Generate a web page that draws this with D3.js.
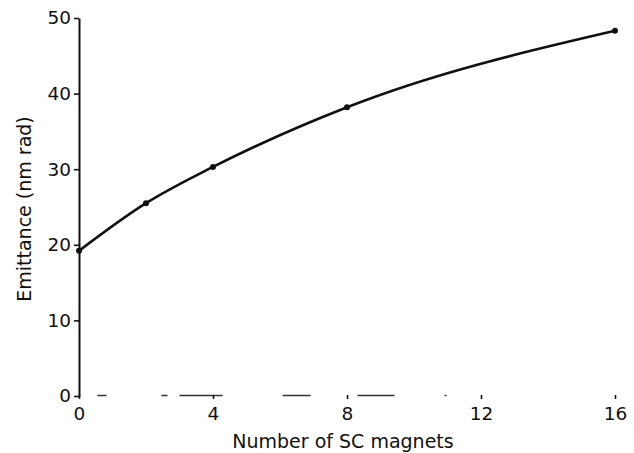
<!DOCTYPE html>
<html><head><meta charset="utf-8">
<script src="https://cdn.jsdelivr.net/npm/d3@7"></script>
<style>body{margin:0;background:#fff}svg{display:block}text{font-family:"DejaVu Sans",sans-serif;fill:#111}</style>
</head><body><svg id="c" width="634" height="453"></svg>
<script>
const xValues = [0, 2, 4, 8, 16];
const emittance = [19.2, 25.5, 30.3, 38.2, 48.3];
const xTicks = [0, 4, 8, 12, 16];
const yTicks = [0, 10, 20, 30, 40, 50];
const xTitle = "Number of SC magnets";
const yTitle = "Emittance (nm rad)";

const svg = d3.select("#c");
const x = d3.scaleLinear().domain([0, 16]).range([79, 615]);
const y = d3.scaleLinear().domain([0, 50]).range([396, 18]);

// y axis
const yAxis = svg.append("g").attr("transform", "translate(79,0)")
  .call(d3.axisLeft(y).tickValues(yTicks).tickSize(5).tickPadding(3).tickSizeOuter(0));
yAxis.select(".domain").attr("stroke", "#111").attr("stroke-width", 2);
yAxis.selectAll(".tick line").attr("stroke", "#111").attr("stroke-width", 1.6);
yAxis.selectAll(".tick text").attr("font-size", 18.5).attr("fill", "#111").attr("font-family", "DejaVu Sans");

// x axis (baseline faded in the print)
const xAxis = svg.append("g").attr("transform", "translate(0,395)")
  .call(d3.axisBottom(x).tickValues(xTicks).tickSize(4).tickPadding(8).tickSizeOuter(0));
xAxis.select(".domain").attr("stroke", "#333").attr("stroke-width", 1.3)
  .attr("stroke-dasharray", "0 18 9 55 6 12 43 60 28 47 37 50 2 200");
xAxis.selectAll(".tick line").attr("stroke", "#111").attr("stroke-width", 1.6);
xAxis.selectAll(".tick text").attr("font-size", 18.5).attr("fill", "#111").attr("font-family", "DejaVu Sans");

// titles
svg.append("text").attr("x", 343).attr("y", 448).attr("text-anchor", "middle")
  .attr("font-size", 19).text(xTitle);
svg.append("text").attr("transform", "translate(31,209) rotate(-90)").attr("text-anchor", "middle")
  .attr("font-size", 19).text(yTitle);

// curve
const data = xValues.map((v, i) => ({x: v, y: emittance[i]}));
svg.append("path").datum(data)
  .attr("fill", "none").attr("stroke", "#111").attr("stroke-width", 2.6)
  .attr("d", d3.line().x(d => x(d.x)).y(d => y(d.y)).curve(d3.curveMonotoneX));
svg.selectAll("circle.pt").data(data).enter().append("circle")
  .attr("cx", d => x(d.x)).attr("cy", d => y(d.y)).attr("r", 3).attr("fill", "#111");
</script></body></html>
